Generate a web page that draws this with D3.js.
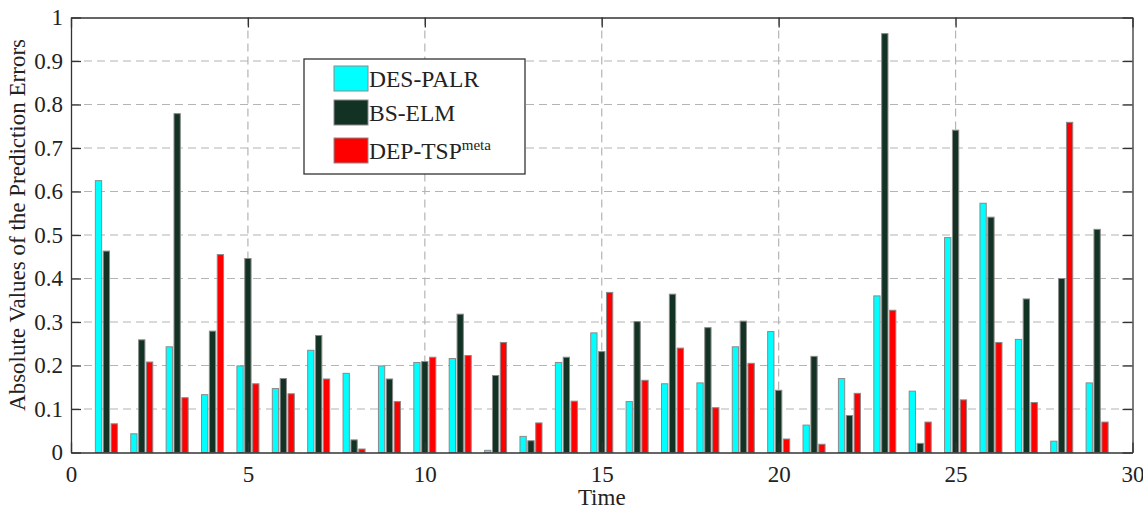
<!DOCTYPE html>
<html>
<head>
<meta charset="utf-8">
<script src="https://cdn.jsdelivr.net/npm/d3@7"></script>
<style>
	body	{ margin:0; background:#fff; }
	text	{ font-family:"Liberation Serif","DejaVu Serif",serif; fill:#222; }
</style>
</head>
<body>
<div id="chart"></div>
<script>
var	times	= d3.range(1, 30),
	desPalr	= [0.625,0.043,0.243,0.133,0.199,0.147,0.235,0.182,0.199,0.207,0.216,0.005,0.037,0.207,0.275,0.117,0.158,0.160,0.243,0.278,0.063,0.170,0.360,0.141,0.494,0.573,0.260,0.026,0.160],
	bsElm	= [0.463,0.259,0.779,0.279,0.446,0.170,0.269,0.029,0.169,0.209,0.318,0.177,0.027,0.219,0.232,0.301,0.364,0.287,0.302,0.143,0.221,0.085,0.963,0.021,0.741,0.541,0.353,0.400,0.513],
	depTsp	= [0.066,0.208,0.126,0.455,0.158,0.135,0.169,0.008,0.117,0.219,0.223,0.253,0.068,0.118,0.368,0.166,0.240,0.103,0.205,0.031,0.019,0.136,0.327,0.070,0.121,0.253,0.115,0.759,0.070],
	xTicks	= [0,5,10,15,20,25,30],
	yTicks	= [0,0.1,0.2,0.3,0.4,0.5,0.6,0.7,0.8,0.9,1],
	series	= [
		{name:"DES-PALR", sup:"", color:"#00ffff", values:desPalr},
		{name:"BS-ELM", sup:"", color:"#123224", values:bsElm},
		{name:"DEP-TSP", sup:"meta", color:"#ff0000", values:depTsp}
	];

var	W	= 1143, H = 511,
	margin	= {top: 17.5, right: 10.5, bottom: 58.5, left: 71},
	w	= W-margin.left-margin.right,
	h	= H-margin.top-margin.bottom,
	serif	= "'Liberation Serif','DejaVu Serif',serif";

var	x	= d3.scaleLinear().domain([0, 30]).range([0, w]),
	y	= d3.scaleLinear().domain([0, 1]).range([h, 0]),
	slot	= x(0.667/3)-x(0),
	barW	= slot*0.8;

var	svg	= d3.select("#chart").append("svg").attr("width", W).attr("height", H),
	g	= svg.append("g").attr("transform", "translate("+margin.left+","+margin.top+")");

// grid
g.append("g").selectAll("line").data(xTicks.slice(1,-1)).enter().append("line")
	.attr("x1", function(d){return x(d)}).attr("x2", function(d){return x(d)})
	.attr("y1", 0).attr("y2", h)
	.attr("stroke", "#b4b4b4").attr("stroke-width", 1.2).attr("stroke-dasharray", "8,5");
g.append("g").selectAll("line").data(yTicks.slice(1,-1)).enter().append("line")
	.attr("y1", function(d){return y(d)}).attr("y2", function(d){return y(d)})
	.attr("x1", 0).attr("x2", w)
	.attr("stroke", "#b4b4b4").attr("stroke-width", 1.2).attr("stroke-dasharray", "8,5");

// bars
series.forEach(function(s, si) {
	g.append("g").selectAll("rect").data(s.values).enter().append("rect")
		.attr("x", function(d,i){return x(times[i]) + (si-1)*slot - barW/2})
		.attr("y", function(d){return y(d)})
		.attr("width", barW)
		.attr("height", function(d){return h-y(d)})
		.attr("fill", s.color)
		.attr("stroke", "#8a8a8a").attr("stroke-width", 1);
});

// axes, matlab box style with inward ticks
var	xAxisB	= d3.axisBottom(x).tickValues(xTicks).tickSizeInner(-10).tickSizeOuter(0).tickPadding(13),
	xAxisT	= d3.axisTop(x).tickValues(xTicks).tickSizeInner(-10).tickSizeOuter(0).tickFormat(""),
	yAxisL	= d3.axisLeft(y).tickValues(yTicks).tickSizeInner(-10).tickSizeOuter(0).tickPadding(8).tickFormat(d3.format("")),
	yAxisR	= d3.axisRight(y).tickValues(yTicks).tickSizeInner(-10).tickSizeOuter(0).tickFormat("");

function styleAxis(a) {
	a.attr("font-family", serif).attr("font-size", 23);
	a.selectAll(".domain").attr("stroke", "#333").attr("stroke-width", 1.3);
	a.selectAll(".tick line").attr("stroke", "#333").attr("stroke-width", 1.3);
	a.selectAll(".tick text").style("font-family", serif).style("font-size", "23px").attr("fill", "#222");
}
g.append("g").attr("transform", "translate(0,"+h+")").call(xAxisB).call(styleAxis);
g.append("g").call(xAxisT).call(styleAxis);
g.append("g").call(yAxisL).call(styleAxis);
g.append("g").attr("transform", "translate("+w+",0)").call(yAxisR).call(styleAxis);

// labels
svg.append("text").attr("x", margin.left+w/2).attr("y", 505)
	.attr("text-anchor", "middle").style("font-size", "23px").text("Time");
svg.append("text").attr("transform", "translate(25,"+(margin.top+h/2-10)+") rotate(-90)")
	.attr("text-anchor", "middle").style("font-size", "23px").text("Absolute Values of the Prediction Errors");

// legend
var	legend	= svg.append("g").attr("transform", "translate(304,59)");
legend.append("rect").attr("width", 221).attr("height", 115)
	.attr("fill", "#fff").attr("stroke", "#333").attr("stroke-width", 1.3);
var	item	= legend.selectAll("g.item").data(series).enter().append("g").attr("class", "item")
		.attr("transform", function(d,i){return "translate(30,"+[7,41,79][i]+")"});
item.append("rect").attr("width", 34).attr("height", 25)
	.attr("fill", function(d){return d.color}).attr("stroke", "#8a8a8a").attr("stroke-width", 1);
var	lt	= item.append("text").attr("x", 35).attr("y", 21).style("font-size", "23.5px");
lt.append("tspan").text(function(d){return d.name});
lt.append("tspan").attr("dy", -9).style("font-size", "15px").text(function(d){return d.sup});
</script>
</body>
</html>
